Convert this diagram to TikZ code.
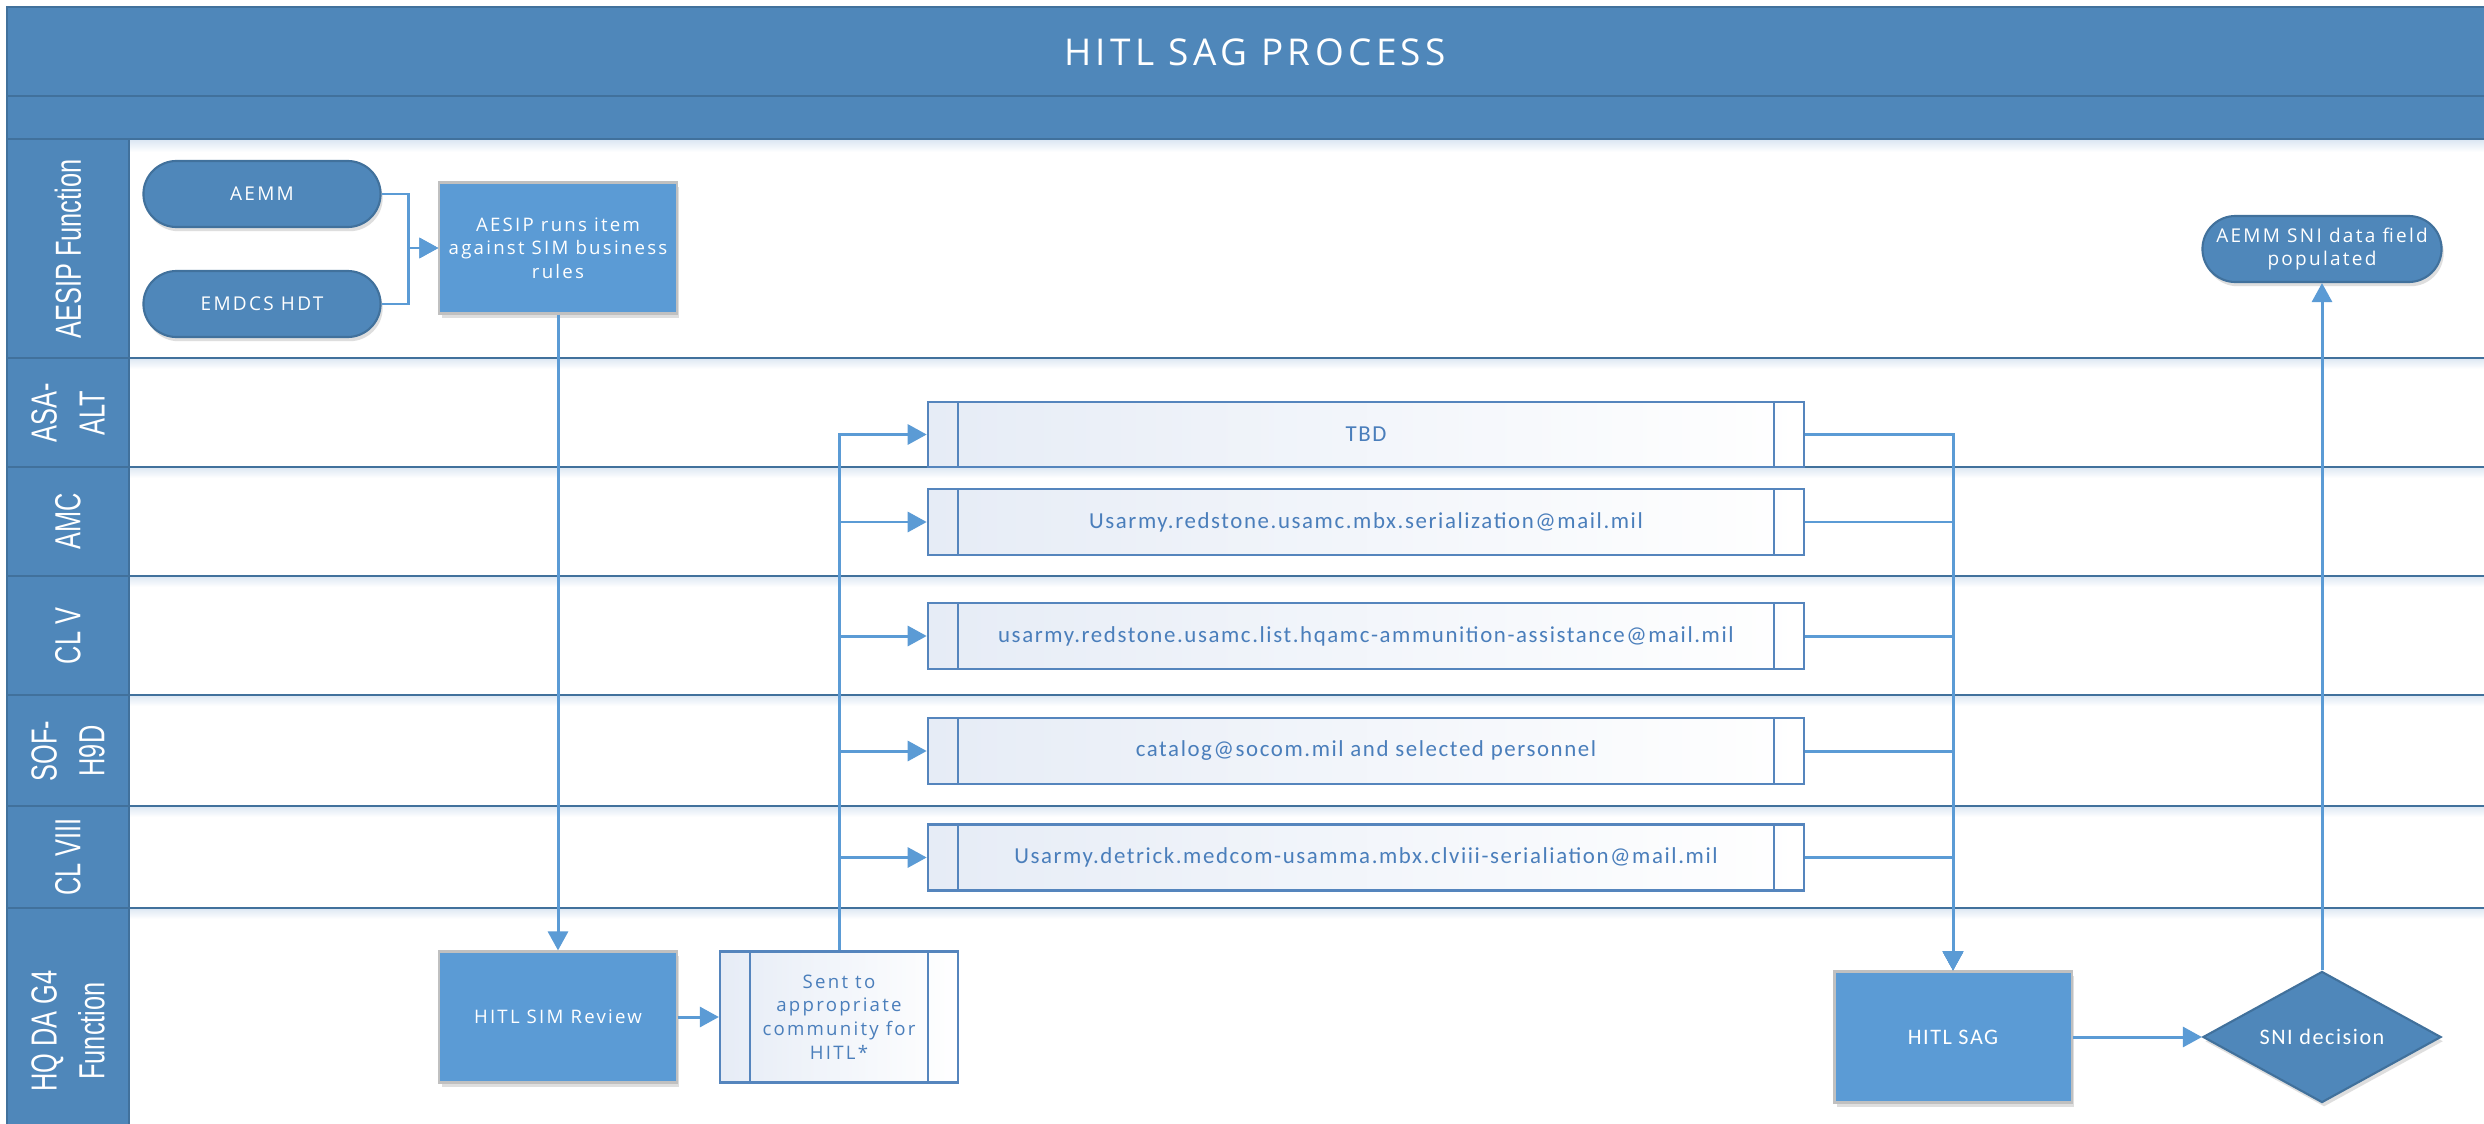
\documentclass[tikz,border=0pt]{standalone}
\usepackage{fontspec}
\setmainfont{Open Sans}[LetterSpace=12]
\newfontfamily\calfont{Carlito}[LetterSpace=7]
\newfontfamily\lanefont{Liberation Sans}
\usetikzlibrary{shapes.geometric,shapes.misc,arrows.meta,calc,shadows}
\definecolor{bandc}{HTML}{4F87BA}
\definecolor{edgec}{HTML}{41719C}
\definecolor{boxc}{HTML}{5B9BD5}
\definecolor{connc}{HTML}{5B9BD5}
\definecolor{procedge}{HTML}{5585BD}
\definecolor{proctext}{HTML}{4A7EBB}
\definecolor{procleft}{HTML}{E6ECF6}
\definecolor{procmid}{HTML}{F6F8FC}
\definecolor{shadec}{HTML}{DCE7F3}
\definecolor{boxedge}{HTML}{C0C0C0}
\newcommand\lanelbl[1]{\scalebox{0.7}[1]{#1}}
\begin{document}
\begin{tikzpicture}[x=0.01cm,y=-0.01cm,
  lanetxt/.style={rotate=90,text=white,font=\lanefont\fontsize{10.3}{13.6}\selectfont,align=center,inner sep=0pt},
  softshadow/.style={drop shadow={shadow xshift=0.6pt,shadow yshift=-1.2pt,opacity=0.18,fill=black!70}},
  term/.style={rounded rectangle,fill=bandc,draw=edgec,line width=0.6pt,text=white,minimum width=2.37cm,minimum height=0.66cm,inner sep=0pt,font=\fontsize{5.4}{6.6}\selectfont,align=center,softshadow},
  task/.style={rectangle,fill=boxc,draw=boxedge,line width=0.6pt,text=white,minimum width=2.37cm,minimum height=1.31cm,inner sep=0pt,font=\fontsize{5.3}{6.7}\selectfont,align=center,softshadow},
  proc/.style={rectangle,left color=procleft,middle color=procmid,right color=white,draw=procedge,line width=0.6pt,text=proctext,minimum height=0.66cm,inner sep=0pt,align=center,
    path picture={\draw[procedge,line width=0.6pt]
      ([xshift=0.3cm]path picture bounding box.north west) -- ([xshift=0.3cm]path picture bounding box.south west)
      ([xshift=-0.3cm]path picture bounding box.north east) -- ([xshift=-0.3cm]path picture bounding box.south east);}},
  email/.style={proc,minimum width=8.76cm,font=\calfont\fontsize{6.5}{7.5}\selectfont},
  conn/.style={draw=connc,line width=0.85pt},
  arr/.style={conn,-{Triangle[length=0.19cm,width=0.2cm]}}
]
\useasboundingbox (0,0) rectangle (2484,1124);
\clip (0,0) rectangle (2484,1124);
\fill[white] (0,0) rectangle (2484,1124);
% title bands
\draw[fill=bandc,draw=edgec,line width=0.8pt] (7,7) rectangle (2520,96);
\draw[fill=bandc,draw=edgec,line width=0.8pt] (7,96) rectangle (2520,139);
\shade[top color=shadec,bottom color=white] (129,140) rectangle (2484,152);
% lane header column
\draw[fill=bandc,draw=edgec,line width=0.8pt] (7,139) rectangle (129,1160);
% lane separators
\foreach \yy in {358,467,576,695,806,908}{
  \shade[top color=shadec,bottom color=white] (130,\yy) rectangle (2484,\yy+11);
  \draw[edgec,line width=0.8pt] (7,\yy) -- (2520,\yy);
}
% lane labels
\node[lanetxt] (l1) at (68,249) {\lanelbl{AESIP Function}};
\node[lanetxt] (l2) at (68,413) {\lanelbl{ASA-}\\\lanelbl{ALT}};
\node[lanetxt] (l3) at (68,521) {\lanelbl{AMC}};
\node[lanetxt] (l4) at (68,636) {\lanelbl{CL V}};
\node[lanetxt] (l5) at (68,751) {\lanelbl{SOF-}\\\lanelbl{H9D}};
\node[lanetxt] (l6) at (68,857) {\lanelbl{CL VIII}};
\node[lanetxt] (l7) at (68,1031) {\lanelbl{HQ DA G4}\\\lanelbl{Function}};
% title
\node[text=white,font=\fontsize{10.5}{12}\selectfont] (title) at (1255,52) {HITL SAG PROCESS};
% nodes
\node[term] (aemm) at (262,194) {AEMM};
\node[term] (emdcs) at (262,304) {EMDCS HDT};
\node[task] (aesip) at (558,248) {AESIP runs item\\against SIM business\\rules};
\node[task] (sim) at (558,1017) {HITL SIM Review};
\node[proc,minimum width=2.38cm,minimum height=1.31cm,font=\fontsize{5.3}{6.7}\selectfont] (sent) at (839,1017) {Sent to\\appropriate\\community for\\HITL*};
\node[email,minimum height=0.65cm] (tbd) at (1366,434.5) {TBD};
\node[email] (amc) at (1366,522) {Usarmy.redstone.usamc.mbx.serialization@mail.mil};
\node[email] (clv) at (1366,636) {usarmy.redstone.usamc.list.hqamc-ammunition-assistance@mail.mil};
\node[email] (sof) at (1366,751) {catalog@socom.mil and selected personnel};
\node[email] (clviii) at (1366,857.5) {Usarmy.detrick.medcom-usamma.mbx.clviii-serialiation@mail.mil};
\node[task,font=\calfont\fontsize{6.3}{7}\selectfont] (sag) at (1953,1037) {HITL SAG};
\node[diamond,aspect=1.8,fill=bandc,draw=edgec,line width=0.6pt,minimum width=2.38cm,minimum height=1.31cm,inner sep=0pt,text=white,font=\calfont\fontsize{6.3}{7}\selectfont,softshadow] (sni) at (2322,1037) {SNI decision};
\node[term,minimum width=2.39cm] (sni2) at (2322,249) {AEMM SNI data field\\populated};
% connectors
\draw[arr] (aemm.east) -| ($(aesip.west)+(-30,0)$) -- (aesip.west);
\draw[arr] (emdcs.east) -| ($(aesip.west)+(-30,0)$) -- (aesip.west);
\draw[arr] (aesip.south) -- (sim.north);
\draw[arr] (sim.east) -- (sent.west);
\foreach \b in {tbd,amc,clv,sof,clviii}{
  \draw[arr] (sent.north) |- (\b.west);
  \draw[arr] (\b.east) -| (sag.north);
}
\draw[arr] (sag.east) -- (sni.west);
\draw[arr] (sni.north) -- (sni2.south);
\end{tikzpicture}
\end{document}
